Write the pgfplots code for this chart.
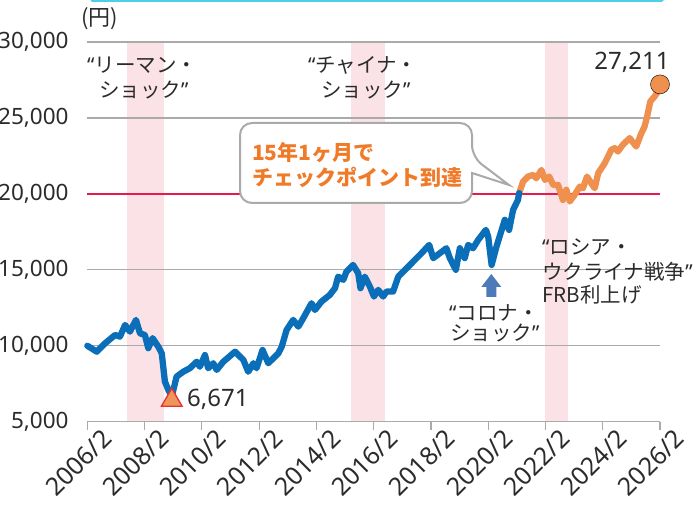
\documentclass[border=0pt]{standalone}
\usepackage{fontspec}
\setmainfont{Noto Sans}
\newfontfamily\jp{Noto Sans CJK JP}
\newfontfamily\lat{Noto Sans}
\usepackage{pgfplots}
\pgfplotsset{compat=1.18}
\definecolor{blueline}{HTML}{0A6FB8}
\definecolor{orangeline}{HTML}{F0904F}
\definecolor{redline}{HTML}{E8194F}
\definecolor{band}{HTML}{FBE2E6}
\definecolor{gridgray}{HTML}{AAAAAA}
\definecolor{txt}{HTML}{2B2B2B}
\definecolor{callorange}{HTML}{F07A28}
\definecolor{callgray}{HTML}{AAAAAA}
\definecolor{triorange}{HTML}{F0955A}
\definecolor{trired}{HTML}{E83030}
\definecolor{arrowblue}{HTML}{4D7AB8}
\definecolor{cyanline}{HTML}{4DCFE8}
\begin{document}
\begin{tikzpicture}[x=1pt,y=1pt]
\begin{axis}[
  at={(87.3pt,84.3pt)}, anchor=south west,
  scale only axis, width=572.7pt, height=379.7pt,
  xmin=0, xmax=20, ymin=5000, ymax=30000,
  set layers,
  scaled y ticks=false, scaled x ticks=false,
  axis x line*=bottom, axis y line*=left,
  y axis line style={draw=none},
  x axis line style={draw=gridgray, line width=1.2pt},
  xtick={0,2,...,20},
  xticklabels={2006/2,2008/2,2010/2,2012/2,2014/2,2016/2,2018/2,2020/2,2022/2,2024/2,2026/2},
  ytick={5000,10000,15000,20000,25000,30000},
  yticklabels={{5,000},{10,000},{15,000},{20,000},{25,000},{30,000}},
  ymajorgrids, grid style={gridgray, line width=1.2pt},
  major tick length=8pt, tick align=outside,
  xtick style={gridgray, line width=1.2pt},
  ytick style={draw=none},
  tick label style={text=txt},
  xticklabel style={font=\fontsize{25}{25}\selectfont, rotate=45, anchor=east, inner sep=0pt, xshift=11pt, yshift=-17pt},
  yticklabel style={font=\fontsize{22.5}{22.5}\selectfont, anchor=east, inner sep=0pt, xshift=-10.5pt},
  clip=false,
]
\addplot[on layer=axis background, fill=band, draw=none] coordinates {(1.39,5000) (2.67,5000) (2.67,30000) (1.39,30000)};
\addplot[on layer=axis background, fill=band, draw=none] coordinates {(9.22,5000) (10.41,5000) (10.41,30000) (9.22,30000)};
\addplot[on layer=axis background, fill=band, draw=none] coordinates {(15.98,5000) (16.80,5000) (16.80,30000) (15.98,30000)};
\addplot[redline, line width=2.5pt] coordinates {(0,20000) (20,20000)};
\addplot[orangeline, line width=6.3pt, line join=round, line cap=round] coordinates {
(15.08,20050) (15.22,20810) (15.39,21140) (15.57,21250) (15.68,21030) (15.86,21580)
(15.98,20920) (16.13,21140) (16.27,20590) (16.44,20590) (16.61,19600) (16.73,20270)
(16.85,19500) (17.02,19940) (17.20,20480) (17.31,20370) (17.45,21140) (17.60,20700)
(17.72,20370) (17.84,21360) (18.07,22020) (18.30,22900) (18.42,23010) (18.53,22790)
(18.70,23230) (18.94,23670) (19.17,23120) (19.35,24000) (19.46,24430) (19.55,25090)
(19.66,26080) (19.81,26410) (19.93,26740) (20.0,27211)};
\addplot[blueline, line width=6.3pt, line join=round, line cap=round] coordinates {
(0,10000) (0.33,9610) (0.62,10160) (0.97,10710) (1.14,10600) (1.32,11370) (1.49,10930)
(1.70,11700) (1.84,10820) (2.01,10710) (2.13,9840) (2.28,10500) (2.48,9940) (2.60,9500)
(2.71,7640) (2.83,7090) (2.95,6671) (3.12,7970) (3.35,8290) (3.58,8520) (3.82,8950)
(3.93,8620) (4.11,9390) (4.22,8520) (4.40,8850) (4.52,8410) (4.75,8950) (5.16,9610)
(5.45,9070) (5.62,8290) (5.80,8850) (5.91,8520) (6.12,9720) (6.32,8850) (6.67,9500)
(6.79,9940) (6.96,11040) (7.19,11700) (7.37,11260) (7.54,11810) (7.83,12800) (7.95,12360)
(8.18,12910) (8.47,13350) (8.65,13790) (8.76,14550) (8.94,14340) (9.05,14880) (9.28,15320)
(9.46,14780) (9.54,13790) (9.69,14550) (9.87,13890) (10.01,13240) (10.16,13680) (10.33,13240)
(10.45,13570) (10.68,13570) (10.86,14550) (11.38,15540) (11.67,16090) (11.94,16640)
(12.08,15770) (12.31,16090) (12.54,16420) (12.66,15770) (12.87,15000) (13.01,16420)
(13.18,15770) (13.30,16640) (13.47,16420) (13.65,16970) (13.92,17630) (14.00,17190)
(14.12,15320) (14.29,16530) (14.58,18290) (14.73,17630) (14.87,18950) (15.04,19600)
(15.08,20050)};
\addplot[only marks, mark=triangle*, mark size=12pt, mark options={fill=triorange, draw=trired, line width=1.3pt, yshift=-4pt}] coordinates {(2.95,6671)};
\addplot[only marks, mark=*, mark size=9.5pt, mark options={fill=orangeline, draw=none}] coordinates {(20,27211)};
\end{axis}
% top cyan frame edge
\draw[cyanline, line width=3pt, line cap=round] (92,505.5) -- (662,505.5);
% unit
\node[font=\jp\fontsize{22}{22}\selectfont, text=txt, inner sep=0pt] at (99.5,487.5) {(円)};
% annotations
\begin{scope}[every node/.style={font=\jp\fontsize{20.5}{20.5}\selectfont, text=txt, inner sep=0pt, anchor=west}]
\node at (87,441) {{\lat “}リーマン・};
\node at (99,416) {ショック{\lat ”}};
\node at (308,441) {{\lat “}チャイナ・};
\node at (321,416) {ショック{\lat ”}};
\node at (449,193.5) {{\lat “}コロナ・};
\node at (450,173.5) {ショック{\lat ”}};
\node at (542,258.5) {{\lat “}ロシア・};
\node at (542,234.5) {ウクライナ戦争{\lat ”}};
\node at (542,211.5) {FRB利上げ};
\end{scope}
\node[font=\fontsize{24}{24}\selectfont, text=txt, inner sep=0pt, anchor=west] at (187,107) {6,671};
\node[font=\fontsize{24}{24}\selectfont, text=txt, inner sep=0pt] at (632,444) {27,211};
% corona arrow
\fill[arrowblue] (486.3,209) -- (496.3,209) -- (496.3,219) -- (501.3,219) -- (491.3,232) -- (481.3,219) -- (486.3,219) -- cycle;
% callout
\draw[callgray, line width=2pt, fill=white, rounded corners=12pt] (240,383) -- (472,383) -- (472,349) [sharp corners] -- (509,321) -- (472,333) [rounded corners=12pt] -- (472,303) -- (240,303) -- cycle;
\node[font=\jp\bfseries\fontsize{21}{21}\selectfont, text=callorange, inner sep=0pt, anchor=west] at (252,353.5) {15年1ヶ月で};
\node[font=\jp\bfseries\fontsize{21}{21}\selectfont, text=callorange, inner sep=0pt, anchor=west] at (252,328.5) {チェックポイント到達};
\pgfresetboundingbox
\path[use as bounding box] (0,0) rectangle (696,506);
\end{tikzpicture}
\end{document}
